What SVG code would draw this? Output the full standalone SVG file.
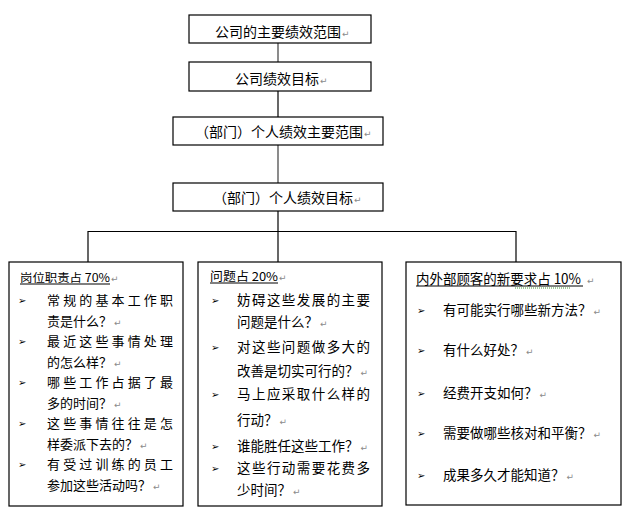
<svg xmlns="http://www.w3.org/2000/svg" width="632" height="518" viewBox="0 0 632 518">
<style>
.box{fill:#fff;stroke:#000;stroke-width:1.2}
.t{font-family:"Noto Sans CJK SC","Noto Sans",sans-serif;fill:#000}
.top{font-size:14px}
.b{font-size:13.5px}
.bl{font-size:13px}
.pm{font-family:"DejaVu Sans",sans-serif;font-size:9px;fill:#8a8a8a}
.bul{font-family:"DejaVu Sans",sans-serif;font-size:10px;fill:#000}
.ln{stroke:#000;stroke-width:1.2;fill:none}
.gl{stroke:#7f7f7f;stroke-width:1.8;fill:none}
.ul{stroke:#000;stroke-width:1}
</style>
<rect width="632" height="518" fill="#fff"/>
<g id="connectors">
<line class="gl" x1="278" y1="43" x2="278" y2="62"/>
<line class="ln" x1="278" y1="91" x2="278" y2="117"/>
<line class="gl" x1="278" y1="145" x2="278" y2="183"/>
<line class="ln" x1="278" y1="211" x2="278" y2="262"/>
<line class="ln" x1="88" y1="231.5" x2="516" y2="231.5"/>
<line class="ln" x1="88" y1="231" x2="88" y2="262"/>
<line class="ln" x1="516" y1="231" x2="516" y2="262"/>
</g>
<g id="n1">
<rect class="box" x="189" y="15" width="182" height="28"/>
<text class="t top" x="215" y="37">公司的主要绩效范围<tspan class="pm" dx="1">↵</tspan></text>
</g>
<g id="n2">
<rect class="box" x="189" y="62" width="182" height="29"/>
<text class="t top" x="235" y="83.5">公司绩效目标<tspan class="pm" dx="1">↵</tspan></text>
</g>
<g id="n3">
<rect class="box" x="173" y="117" width="210" height="28"/>
<text class="t top" x="195" y="137">（部门）个人绩效主要范围<tspan class="pm" dx="1">↵</tspan></text>
</g>
<g id="n4">
<rect class="box" x="173" y="183" width="210" height="28"/>
<text class="t top" x="213" y="202.5">（部门）个人绩效目标<tspan class="pm" dx="1">↵</tspan></text>
</g>
<g id="left">
<rect class="box" x="9" y="262" width="174" height="244"/>
<text class="t" x="20" y="282" font-size="11.5" textLength="90" lengthAdjust="spacingAndGlyphs">岗位职责占 70%</text>
<text class="pm" x="111" y="282">↵</text>
<line class="ul" x1="20" y1="284" x2="110" y2="284"/>
<g class="bul"><text x="18" y="303.5">➢</text><text x="18" y="344.5">➢</text><text x="18" y="385.5">➢</text><text x="18" y="426.5">➢</text><text x="18" y="467.5">➢</text></g>
<text class="t bl" x="47" y="305" textLength="126" lengthAdjust="spacing">常规的基本工作职</text>
<text class="t bl" x="47" y="325.5">责是什么？<tspan class="pm" dx="2">↵</tspan></text>
<text class="t bl" x="47" y="346" textLength="126" lengthAdjust="spacing">最近这些事情处理</text>
<text class="t bl" x="47" y="366.5">的怎么样？<tspan class="pm" dx="2">↵</tspan></text>
<text class="t bl" x="47" y="387" textLength="126" lengthAdjust="spacing">哪些工作占据了最</text>
<text class="t bl" x="47" y="407.5">多的时间？<tspan class="pm" dx="2">↵</tspan></text>
<text class="t bl" x="47" y="428" textLength="126" lengthAdjust="spacing">这些事情往往是怎</text>
<text class="t bl" x="47" y="448.5">样委派下去的？<tspan class="pm" dx="2">↵</tspan></text>
<text class="t bl" x="47" y="469" textLength="126" lengthAdjust="spacing">有受过训练的员工</text>
<text class="t bl" x="47" y="489.5">参加这些活动吗？<tspan class="pm" dx="2">↵</tspan></text>
</g>
<g id="middle">
<rect class="box" x="198" y="262" width="184" height="244"/>
<text class="t" x="210" y="281" font-size="12.3" textLength="68" lengthAdjust="spacingAndGlyphs">问题占 20%</text>
<text class="pm" x="279" y="281">↵</text>
<line class="ul" x1="210" y1="283" x2="278" y2="283"/>
<g class="bul"><text x="211" y="303.5">➢</text><text x="211" y="350.5">➢</text><text x="211" y="397.5">➢</text><text x="211" y="449.5">➢</text><text x="211" y="471.5">➢</text></g>
<text class="t b" x="237" y="305" textLength="133" lengthAdjust="spacing">妨碍这些发展的主要</text>
<text class="t b" x="237" y="327">问题是什么？<tspan class="pm" dx="2">↵</tspan></text>
<text class="t b" x="237" y="352" textLength="133" lengthAdjust="spacing">对这些问题做多大的</text>
<text class="t b" x="237" y="376">改善是切实可行的？<tspan class="pm" dx="2">↵</tspan></text>
<text class="t b" x="237" y="399" textLength="133" lengthAdjust="spacing">马上应采取什么样的</text>
<text class="t b" x="237" y="425">行动？<tspan class="pm" dx="2">↵</tspan></text>
<text class="t b" x="237" y="451">谁能胜任这些工作？<tspan class="pm" dx="2">↵</tspan></text>
<text class="t b" x="237" y="473" textLength="133" lengthAdjust="spacing">这些行动需要花费多</text>
<text class="t b" x="237" y="495">少时间？<tspan class="pm" dx="2">↵</tspan></text>
</g>
<g id="right">
<rect class="box" x="406" y="262" width="215" height="243"/>
<text class="t" x="416" y="284" font-size="14" textLength="165" lengthAdjust="spacingAndGlyphs">内外部顾客的新要求占 10%</text>
<text class="pm" x="587" y="284">↵</text>
<line class="ul" x1="416" y1="286" x2="583" y2="286"/>
<line x1="515" y1="288" x2="571" y2="288" stroke="#4a9a3a" stroke-width="1" stroke-dasharray="1 1"/>
<g class="bul"><text x="417" y="313.5">➢</text><text x="417" y="353.5">➢</text><text x="417" y="396.5">➢</text><text x="417" y="436.5">➢</text><text x="417" y="478.5">➢</text></g>
<text class="t b" x="443" y="315">有可能实行哪些新方法？<tspan class="pm" dx="2">↵</tspan></text>
<text class="t b" x="443" y="355">有什么好处？<tspan class="pm" dx="2">↵</tspan></text>
<text class="t b" x="443" y="398">经费开支如何？<tspan class="pm" dx="2">↵</tspan></text>
<text class="t b" x="443" y="438">需要做哪些核对和平衡？<tspan class="pm" dx="2">↵</tspan></text>
<text class="t b" x="443" y="480">成果多久才能知道？<tspan class="pm" dx="2">↵</tspan></text>
</g>
</svg>
